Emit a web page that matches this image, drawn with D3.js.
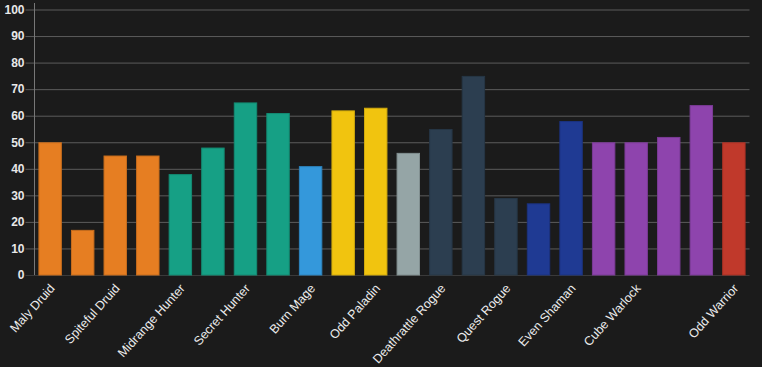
<!DOCTYPE html>
<html>
<head>
<meta charset="utf-8">
<script src="https://cdn.jsdelivr.net/npm/d3@7"></script>
<style>
  html, body { margin: 0; padding: 0; background: #1b1b1b; }
  svg { display: block; }
</style>
</head>
<body>
<svg id="chart" width="762" height="367"></svg>
<script>
// Tick labels shown on the x axis (null = label skipped in the reference)
const tickLabels = ["Maly Druid", null, "Spiteful Druid", null, "Midrange Hunter", null,
  "Secret Hunter", null, "Burn Mage", null, "Odd Paladin", null, "Deathrattle Rogue", null,
  "Quest Rogue", null, "Even Shaman", null, "Cube Warlock", null, null, "Odd Warrior"];
// Class of each bar (drives colour)
const classes = ["Druid", "Druid", "Druid", "Druid", "Hunter", "Hunter", "Hunter", "Hunter",
  "Mage", "Paladin", "Paladin", "Priest", "Rogue", "Rogue", "Rogue", "Shaman", "Shaman",
  "Warlock", "Warlock", "Warlock", "Warlock", "Warrior"];
const values = [50, 17, 45, 45, 38, 48, 65, 61, 41, 62, 63, 46, 55, 75, 29, 27, 58, 50, 50, 52, 64, 50];
const yTicks = [0, 10, 20, 30, 40, 50, 60, 70, 80, 90, 100];
const classNames = ["Druid", "Hunter", "Mage", "Paladin", "Priest", "Rogue", "Shaman", "Warlock", "Warrior"];
const classColors = ["#e67e22", "#16a085", "#3498db", "#f1c40f", "#95a5a6", "#2c3e50", "#1f3a93", "#8e44ad", "#c0392b"];

const svg = d3.select("#chart");
const mLeft = 34.5, mRight = 749.5, mTop = 9.5, mBottom = 275;

const x = d3.scaleBand().domain(d3.range(values.length)).range([mLeft, mRight]).paddingInner(0.28).paddingOuter(0.12);
const y = d3.scaleLinear().domain([0, 100]).range([mBottom, mTop]);
const color = d3.scaleOrdinal().domain(classNames).range(classColors);

// gridlines + ticks
const yAxis = d3.axisLeft(y).tickValues(yTicks).tickSize(-(mRight - mLeft)).tickPadding(10);
const gy = svg.append("g").attr("transform", `translate(${mLeft},0)`).call(yAxis);
gy.select(".domain").remove();
gy.selectAll(".tick line").attr("stroke", "#5c5c5c").attr("x1", -9).attr("stroke-width", 1);
gy.selectAll(".tick text").attr("fill", "#e8e8e8").attr("font-family", "Liberation Sans, Arial, sans-serif")
  .attr("font-size", 12).attr("font-weight", "bold").attr("x", -10);
gy.selectAll(".tick").filter(d => d === 0).select("line").attr("stroke", "#3a3a3a");

// y axis line
svg.append("line").attr("x1", mLeft).attr("x2", mLeft).attr("y1", 3).attr("y2", mBottom)
  .attr("stroke", "#777").attr("stroke-width", 1);

// bars
svg.append("g").selectAll("rect").data(values).join("rect")
  .attr("x", (d, i) => x(i) + 0.5)
  .attr("width", x.bandwidth() - 1)
  .attr("y", d => y(d) + 0.5)
  .attr("height", d => y(0) - y(d) - 0.5)
  .attr("fill", (d, i) => color(classes[i]))
  .attr("stroke", (d, i) => d3.color(color(classes[i])).darker(0.4))
  .attr("stroke-width", 1);

// x labels
const xAxis = d3.axisBottom(x).tickSize(0).tickFormat(i => tickLabels[i] || "");
const gx = svg.append("g").attr("transform", `translate(0,${mBottom})`).call(xAxis);
gx.select(".domain").remove();
gx.selectAll(".tick text")
  .attr("fill", "#ececec")
  .attr("font-family", "Liberation Sans, Arial, sans-serif")
  .attr("font-size", 12.5)
  .attr("text-anchor", "end")
  .attr("transform", "translate(2,11) rotate(-48)")
  .attr("x", 0).attr("y", 0).attr("dy", "0.35em");
</script>
</body>
</html>
